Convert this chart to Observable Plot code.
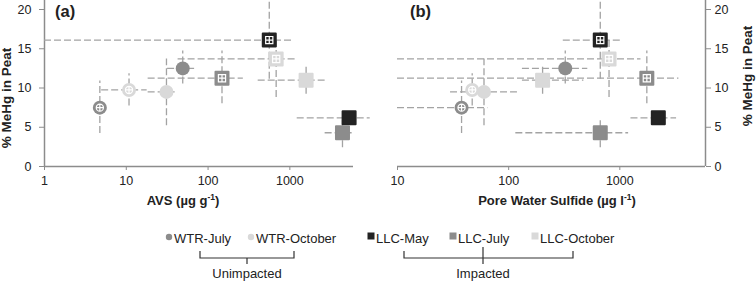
<!DOCTYPE html>
<html><head><meta charset="utf-8">
<script src="https://cdn.jsdelivr.net/npm/d3@7"></script>
<script src="https://cdn.jsdelivr.net/npm/@observablehq/plot@0.6"></script>
<style>
body{margin:0;background:#fff;font-family:"Liberation Sans",Arial,sans-serif;}
#wrap{position:relative;width:756px;height:281px;overflow:hidden;background:#fff;}
#wrap svg{position:absolute;top:0;}
#wrap svg text{fill:#222;}
</style></head><body><div id="wrap"></div>
<script>
const seriesNames = ["WTR-July","WTR-October","LLC-May","LLC-July","LLC-October"];
const seriesColors = ["#8c8c8c","#d9d9d9","#232323","#8c8c8c","#d9d9d9"];
const seriesShapes = ["circle","circle","square","square","square"];
const groupNames = ["Unimpacted","Impacted"];
// ten points: each series has a crossed marker and a plain marker
const pointSeries  = [0,0,1,1,2,2,3,3,4,4];
const pointCrossed = [1,0,1,0,1,0,1,0,1,0];
const mehg   = [7.5, 12.5, 9.75, 9.5, 16.1, 6.2, 11.25, 4.3, 13.7, 11.0];
const mehgLo = [4.2, 10.5, 7.7, 5.2, 11.1, null, 8.0, 2.4, 8.8, 9.2];
const mehgHi = [10.9, 14.7, 11.8, 13.7, 21.1, null, 14.7, 6.0, 16.3, 13.0];
const avs    = [4.75, 49, 10.8, 31, 560, 5300, 148, 4400, 680, 1580];
const avsLo  = [null, 32, 5, 18.5, 1, 1230, 18.5, 2700, 43, 410];
const avsHi  = [null, 69, 18, 43, 1100, 9600, 270, 6000, 1260, 2700];
const pws    = [37.7, 323, 47, 60, 667, 2220, 1750, 667, 800, 202];
const pwsLo  = [10, 133, null, 30, 310, 1260, 10, 116, 10, 133];
const pwsHi  = [65, 515, null, 120, 1020, 3240, 3400, 1200, 1550, 475];
const avsTicks  = [1, 10, 100, 1000];
const pwsTicks  = [10, 100, 1000];
const mehgTicks = [0, 5, 10, 15, 20];

const axisColor = "#8c8c8c";
const errColor = "#a3a3a3";

const sqSym = {draw(ctx, size){const s=Math.sqrt(size/Math.PI); ctx.moveTo(-s,-s); ctx.lineTo(s,-s); ctx.lineTo(s,s); ctx.lineTo(-s,s); ctx.closePath();}};
const winSym = {draw(ctx, size){const s=Math.sqrt(size/Math.PI); ctx.moveTo(-s,-s); ctx.lineTo(s,-s); ctx.lineTo(s,s); ctx.lineTo(-s,s); ctx.closePath(); ctx.moveTo(-s,0); ctx.lineTo(s,0); ctx.moveTo(0,-s); ctx.lineTo(0,s);}};
const ringPlus = {draw(ctx, size){const s=Math.sqrt(size/Math.PI); ctx.moveTo(s,0); ctx.arc(0,0,s,0,2*Math.PI); ctx.moveTo(-s,0); ctx.lineTo(s,0); ctx.moveTo(0,-s); ctx.lineTo(0,s);}};

function rowsFor(xv, xl, xh){
  return pointSeries.map((s,i)=>({s, crossed: pointCrossed[i], x: xv[i], xLo: xl[i], xHi: xh[i],
    y: mehg[i], yLo: mehgLo[i], yHi: mehgHi[i], color: seriesColors[s], shape: seriesShapes[s]}));
}

function panel(rows, o){
  return Plot.plot({
    width: 378, height: 210,
    marginLeft: o.ml, marginRight: o.mr, marginTop: 9, marginBottom: 44,
    style: {fontFamily: "Liberation Sans, Arial, sans-serif", fontSize: "12.5px", color: axisColor, background: "transparent", overflow: "visible"},
    x: {type: "log", domain: o.xdom},
    y: {domain: [0, 20]},
    color: {type: "identity"},
    marks: [
      Plot.ruleY([0], {stroke: axisColor, strokeWidth: 1.5}),
      Plot.ruleX([o.axisAt], {stroke: axisColor, strokeWidth: 1.5, insetTop: -9}),
      Plot.axisX({ticks: o.ticks, tickFormat: d => String(d), tickSize: 4, tickPadding: 6, label: null, stroke: axisColor}),
      Plot.axisY({anchor: o.yAnchor, ticks: mehgTicks, tickSize: 5, tickPadding: o.yPad, label: null, stroke: axisColor}),
      Plot.ruleY(rows.filter(d => d.xLo != null), {y: "y", x1: "xLo", x2: "xHi", stroke: errColor, strokeWidth: 1.3, strokeDasharray: "7,3"}),
      Plot.ruleX(rows.filter(d => d.yLo != null), {x: "x", y1: "yLo", y2: "yHi", stroke: errColor, strokeWidth: 1.3, strokeDasharray: "7,3"}),
      Plot.dot(rows.filter(d => d.shape === "circle"), {x: "x", y: "y", r: 7, fill: "color"}),
      Plot.dot(rows.filter(d => d.shape === "square"), {x: "x", y: "y", r: 6.5, symbol: sqSym, fill: "color", stroke: "color", strokeWidth: 2, strokeLinejoin: "round"}),
      Plot.dot(rows.filter(d => d.crossed && d.shape === "circle"), {x: "x", y: "y", r: 3.6, symbol: ringPlus, fill: "none", stroke: "white", strokeWidth: 1.2}),
      Plot.dot(rows.filter(d => d.crossed && d.shape === "square"), {x: "x", y: "y", r: 3.6, symbol: winSym, fill: "none", stroke: "white", strokeWidth: 1.2})
    ]
  });
}

const wrap = document.getElementById("wrap");
const pa = panel(rowsFor(avs, avsLo, avsHi), {ml: 44, mr: 25, xdom: [1, 6000], axisAt: 1, ticks: avsTicks, yAnchor: "left", yPad: 8});
pa.style.left = "0px";
wrap.appendChild(pa);
const pb = panel(rowsFor(pws, pwsLo, pwsHi), {ml: 19, mr: 51, xdom: [10, 5900], axisAt: 5900, ticks: pwsTicks, yAnchor: "right", yPad: 4});
pb.style.left = "378px";
wrap.appendChild(pb);

// overlay: titles, panel letters, legend
const ov = d3.select(wrap).append("svg").attr("width", 756).attr("height", 281)
  .style("left", "0px").style("pointer-events", "none")
  .attr("font-family", "Liberation Sans, Arial, sans-serif");

ov.append("text").attr("x", 55).attr("y", 17).attr("font-size", 16.5).attr("font-weight", "bold").text("(a)");
ov.append("text").attr("x", 410).attr("y", 17).attr("font-size", 16.5).attr("font-weight", "bold").text("(b)");

ov.append("text").attr("transform", "translate(11,98) rotate(-90)").attr("text-anchor", "middle")
  .attr("font-size", 13.5).attr("font-weight", "bold").text("% MeHg in Peat");
ov.append("text").attr("transform", "translate(752,76) rotate(-90)").attr("text-anchor", "middle")
  .attr("font-size", 13.5).attr("font-weight", "bold").text("% MeHg in Peat");

function xTitle(x, main){
  const t = ov.append("text").attr("x", x).attr("y", 205).attr("text-anchor", "middle")
    .attr("font-size", 13).attr("font-weight", "bold");
  t.append("tspan").text(main);
  t.append("tspan").attr("dy", -5).attr("font-size", 8.5).text("-1");
  t.append("tspan").attr("dy", 5).text(")");
}
xTitle(183, "AVS (µg g");
xTitle(557, "Pore Water Sulfide (µg l");

// legend
const legX = [169, 251, 371, 453, 535];
seriesNames.forEach((name, i) => {
  if (seriesShapes[i] === "circle") {
    ov.append("circle").attr("cx", legX[i]).attr("cy", 237).attr("r", 3.2).attr("fill", seriesColors[i]);
  } else {
    ov.append("rect").attr("x", legX[i] - 3.5).attr("y", 232.5).attr("width", 7).attr("height", 7).attr("fill", seriesColors[i]);
  }
  ov.append("text").attr("x", legX[i] + 5).attr("y", 242.5).attr("font-size", 13).text(name);
});

// brackets
const brackets = [{x1: 200, x2: 294, c: 247, name: groupNames[0]}, {x1: 404, x2: 573, c: 483, name: groupNames[1]}];
brackets.forEach((b, i) => {
  const p = d3.path();
  p.moveTo(b.x1, 251); p.lineTo(b.x1, 258); p.lineTo(b.x2, 258); p.lineTo(b.x2, 251);
  p.moveTo(b.c, i === 1 ? 247 : 258); p.lineTo(b.c, 264);
  ov.append("path").attr("d", p.toString()).attr("fill", "none").attr("stroke", "#333").attr("stroke-width", 1.2);
  ov.append("text").attr("x", b.c).attr("y", 278).attr("text-anchor", "middle").attr("font-size", 13).text(b.name);
});
</script>
</body></html>
